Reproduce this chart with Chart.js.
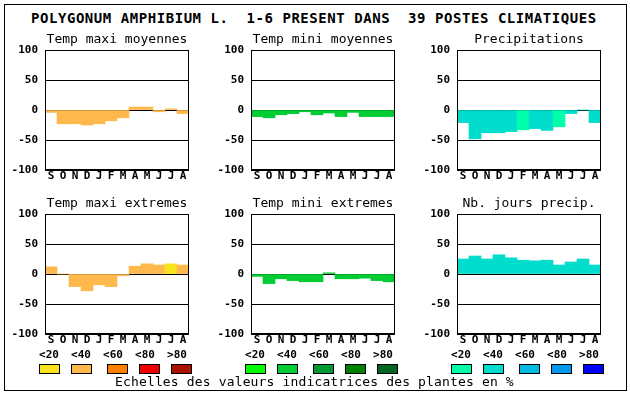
<!DOCTYPE html>
<html>
<head>
<meta charset="utf-8">
<script src="https://cdn.jsdelivr.net/npm/chart.js@4.4.1/dist/chart.umd.min.js"></script>
<style>
body { margin: 0; background: #fff; }
#page { position: relative; width: 630px; height: 394px; overflow: hidden; font-family: 'DejaVu Sans Mono', monospace; color: #000; }
.frame { position: absolute; left: 4px; top: 4px; width: 621px; height: 385px; border: 1px solid #000; }
.title { position: absolute; left: 31px; top: 11px; font-size: 14px; line-height: 14px; font-weight: bold; letter-spacing: 0.55px; white-space: pre; }
.panel { position: absolute; }
.lbl { position: absolute; width: 32px; text-align: center; font-size: 11px; line-height: 11px; font-weight: bold; top: 349px; }
.swatch { position: absolute; width: 21px; height: 10px; top: 364px; border: 1px solid #000; box-sizing: border-box; }
.caption { position: absolute; left: 115px; top: 375px; font-size: 13px; line-height: 13px; letter-spacing: 0.15px; white-space: pre; }
</style>
</head>
<body>
<div id="page">
  <div class="frame"></div>
  <div class="title">POLYGONUM AMPHIBIUM L.  1-6 PRESENT DANS  39 POSTES CLIMATIQUES</div>
  <div id="panels"></div>
  <div id="legend"></div>
  <div class="caption">Echelles des valeurs indicatrices des plantes en %</div>
</div>
<script>
"use strict";

// months, september to august
const months = ['S', 'O', 'N', 'D', 'J', 'F', 'M', 'A', 'M', 'J', 'J', 'A'];
const yTicks = [-100, -50, 0, 50, 100];
const scaleLabels = ['<20', '<40', '<60', '<80', '>80'];

const tempMaxiMoy = [-4, -23, -23, -25, -23, -18, -13, 5, 5, -3, 2, -6];
const tempMiniMoy = [-11, -13, -8, -6, -3, -8, -5, -11, -4, -11, -11, -11];
const precip = [-21, -48, -38, -38, -36, -33, -31, -34, -28, -6, 0, -21];
const tempMaxiExt = [12, 0, -21, -28, -18, -21, -3, 13, 17, 15, 17, 15];
const tempMiniExt = [-4, -16, -8, -11, -13, -13, 2, -8, -8, -7, -11, -13];
const nbJours = [25, 30, 25, 32, 27, 23, 22, 23, 15, 20, 25, 15];

// indicator class of each bar (0 = <20 ... 4 = >80)
const tempMaxiMoyClass = [1, 1, 1, 1, 1, 1, 1, 1, 1, 1, 1, 1];
const tempMiniMoyClass = [1, 1, 1, 1, 1, 1, 1, 1, 1, 1, 1, 1];
const precipClass = [1, 1, 1, 1, 1, 0, 1, 1, 0, 1, 1, 1];
const tempMaxiExtClass = [1, 1, 1, 1, 1, 1, 1, 1, 1, 1, 0, 1];
const tempMiniExtClass = [1, 1, 1, 1, 1, 1, 1, 1, 1, 1, 1, 1];
const nbJoursClass = [1, 1, 1, 1, 1, 1, 1, 1, 1, 1, 1, 1];

const warmColors = ['#f8e41c', '#ffb84c', '#ff8000', '#ee0000', '#aa1100'];
const greenColors = ['#00ff00', '#00cc33', '#009933', '#008000', '#006622'];
const blueColors = ['#00ffaa', '#00ddcc', '#00bbdd', '#0099ee', '#0000ff'];

const FONT = "'DejaVu Sans Mono', monospace";
const PLOT_W = 144, PLOT_H = 120;
const PAD_L = 45, PAD_T = 22, PAD_R = 6, PAD_B = 22;

const panels = [
    { title: 'Temp maxi moyennes', values: tempMaxiMoy, classes: tempMaxiMoyClass, palette: warmColors, x: 45, y: 50 },
    { title: 'Temp mini moyennes', values: tempMiniMoy, classes: tempMiniMoyClass, palette: greenColors, x: 251, y: 50 },
    { title: 'Precipitations', values: precip, classes: precipClass, palette: blueColors, x: 457, y: 50 },
    { title: 'Temp maxi extremes', values: tempMaxiExt, classes: tempMaxiExtClass, palette: warmColors, x: 45, y: 214 },
    { title: 'Temp mini extremes', values: tempMiniExt, classes: tempMiniExtClass, palette: greenColors, x: 251, y: 214 },
    { title: 'Nb. jours precip.', values: nbJours, classes: nbJoursClass, palette: blueColors, x: 457, y: 214 },
];

// box round the plot area, drawn over the bars
const framePlugin = {
    id: 'frame',
    afterDraw(chart) {
        const { ctx, chartArea } = chart;
        const l = Math.round(chartArea.left) + 0.5;
        const r = Math.round(chartArea.right) - 0.5;
        const t = Math.round(chartArea.top) + 0.5;
        const b = Math.round(chartArea.bottom) - 0.5;
        ctx.save();
        ctx.strokeStyle = '#000';
        ctx.lineWidth = 1;
        ctx.strokeRect(l, t, r - l, b - t);
        ctx.restore();
    }
};

function drawPanel(panel) {
    const box = document.createElement('div');
    box.className = 'panel';
    box.style.left = (panel.x - PAD_L) + 'px';
    box.style.top = (panel.y - PAD_T) + 'px';
    const canvas = document.createElement('canvas');
    canvas.width = PAD_L + PLOT_W + PAD_R;
    canvas.height = PAD_T + PLOT_H + PAD_B;
    box.appendChild(canvas);
    document.querySelector('#panels').appendChild(box);

    new Chart(canvas.getContext('2d'), {
        type: 'bar',
        data: {
            labels: months,
            datasets: [{
                data: panel.values,
                backgroundColor: panel.classes.map(c => panel.palette[c]),
                borderWidth: 0,
                barPercentage: 1,
                categoryPercentage: 1,
            }]
        },
        options: {
            responsive: false,
            animation: false,
            layout: { padding: { left: 0, top: 0, right: PAD_R, bottom: 0 } },
            plugins: {
                legend: { display: false },
                tooltip: { enabled: false },
                title: {
                    display: true,
                    fullSize: false,
                    text: panel.title,
                    color: '#000',
                    font: { family: FONT, size: 13, weight: 'normal', lineHeight: 1.2 },
                    padding: { top: 3.5, bottom: PAD_T - 3.5 - 15.6 },
                },
            },
            scales: {
                x: {
                    grid: { display: false, drawTicks: false },
                    border: { display: false },
                    ticks: { color: '#000', padding: 0, maxRotation: 0, autoSkip: false, font: { family: FONT, size: 11, weight: 'bold' } },
                    afterFit(scale) { scale.height = PAD_B; },
                },
                y: {
                    min: -100,
                    max: 100,
                    z: 1,
                    afterBuildTicks(scale) { scale.ticks = yTicks.map(v => ({ value: v })); },
                    grid: { color: '#000', lineWidth: 1, drawTicks: false },
                    border: { display: true, color: '#000', width: 1 },
                    ticks: { color: '#000', padding: 7, font: { family: FONT, size: 11, weight: 'bold' } },
                    afterFit(scale) { scale.width = PAD_L; },
                },
            },
        },
        plugins: [framePlugin],
    });
}

function drawLegend() {
    const legend = document.querySelector('#legend');
    const groups = [
        { palette: warmColors, x: 39 },
        { palette: greenColors, x: 245 },
        { palette: blueColors, x: 451 },
    ];
    const labelOffsets = [0, 32, 64, 96, 128];
    const swatchOffsets = [0, 32, 68, 100, 132];
    groups.forEach(group => {
        scaleLabels.forEach((text, k) => {
            const lbl = document.createElement('div');
            lbl.className = 'lbl';
            lbl.textContent = text;
            lbl.style.left = (group.x + 10 + labelOffsets[k] - 16) + 'px';
            legend.appendChild(lbl);

            const sw = document.createElement('div');
            sw.className = 'swatch';
            sw.style.left = (group.x + swatchOffsets[k]) + 'px';
            sw.style.background = group.palette[k];
            legend.appendChild(sw);
        });
    });
}

panels.forEach(drawPanel);
drawLegend();
</script>
</body>
</html>
